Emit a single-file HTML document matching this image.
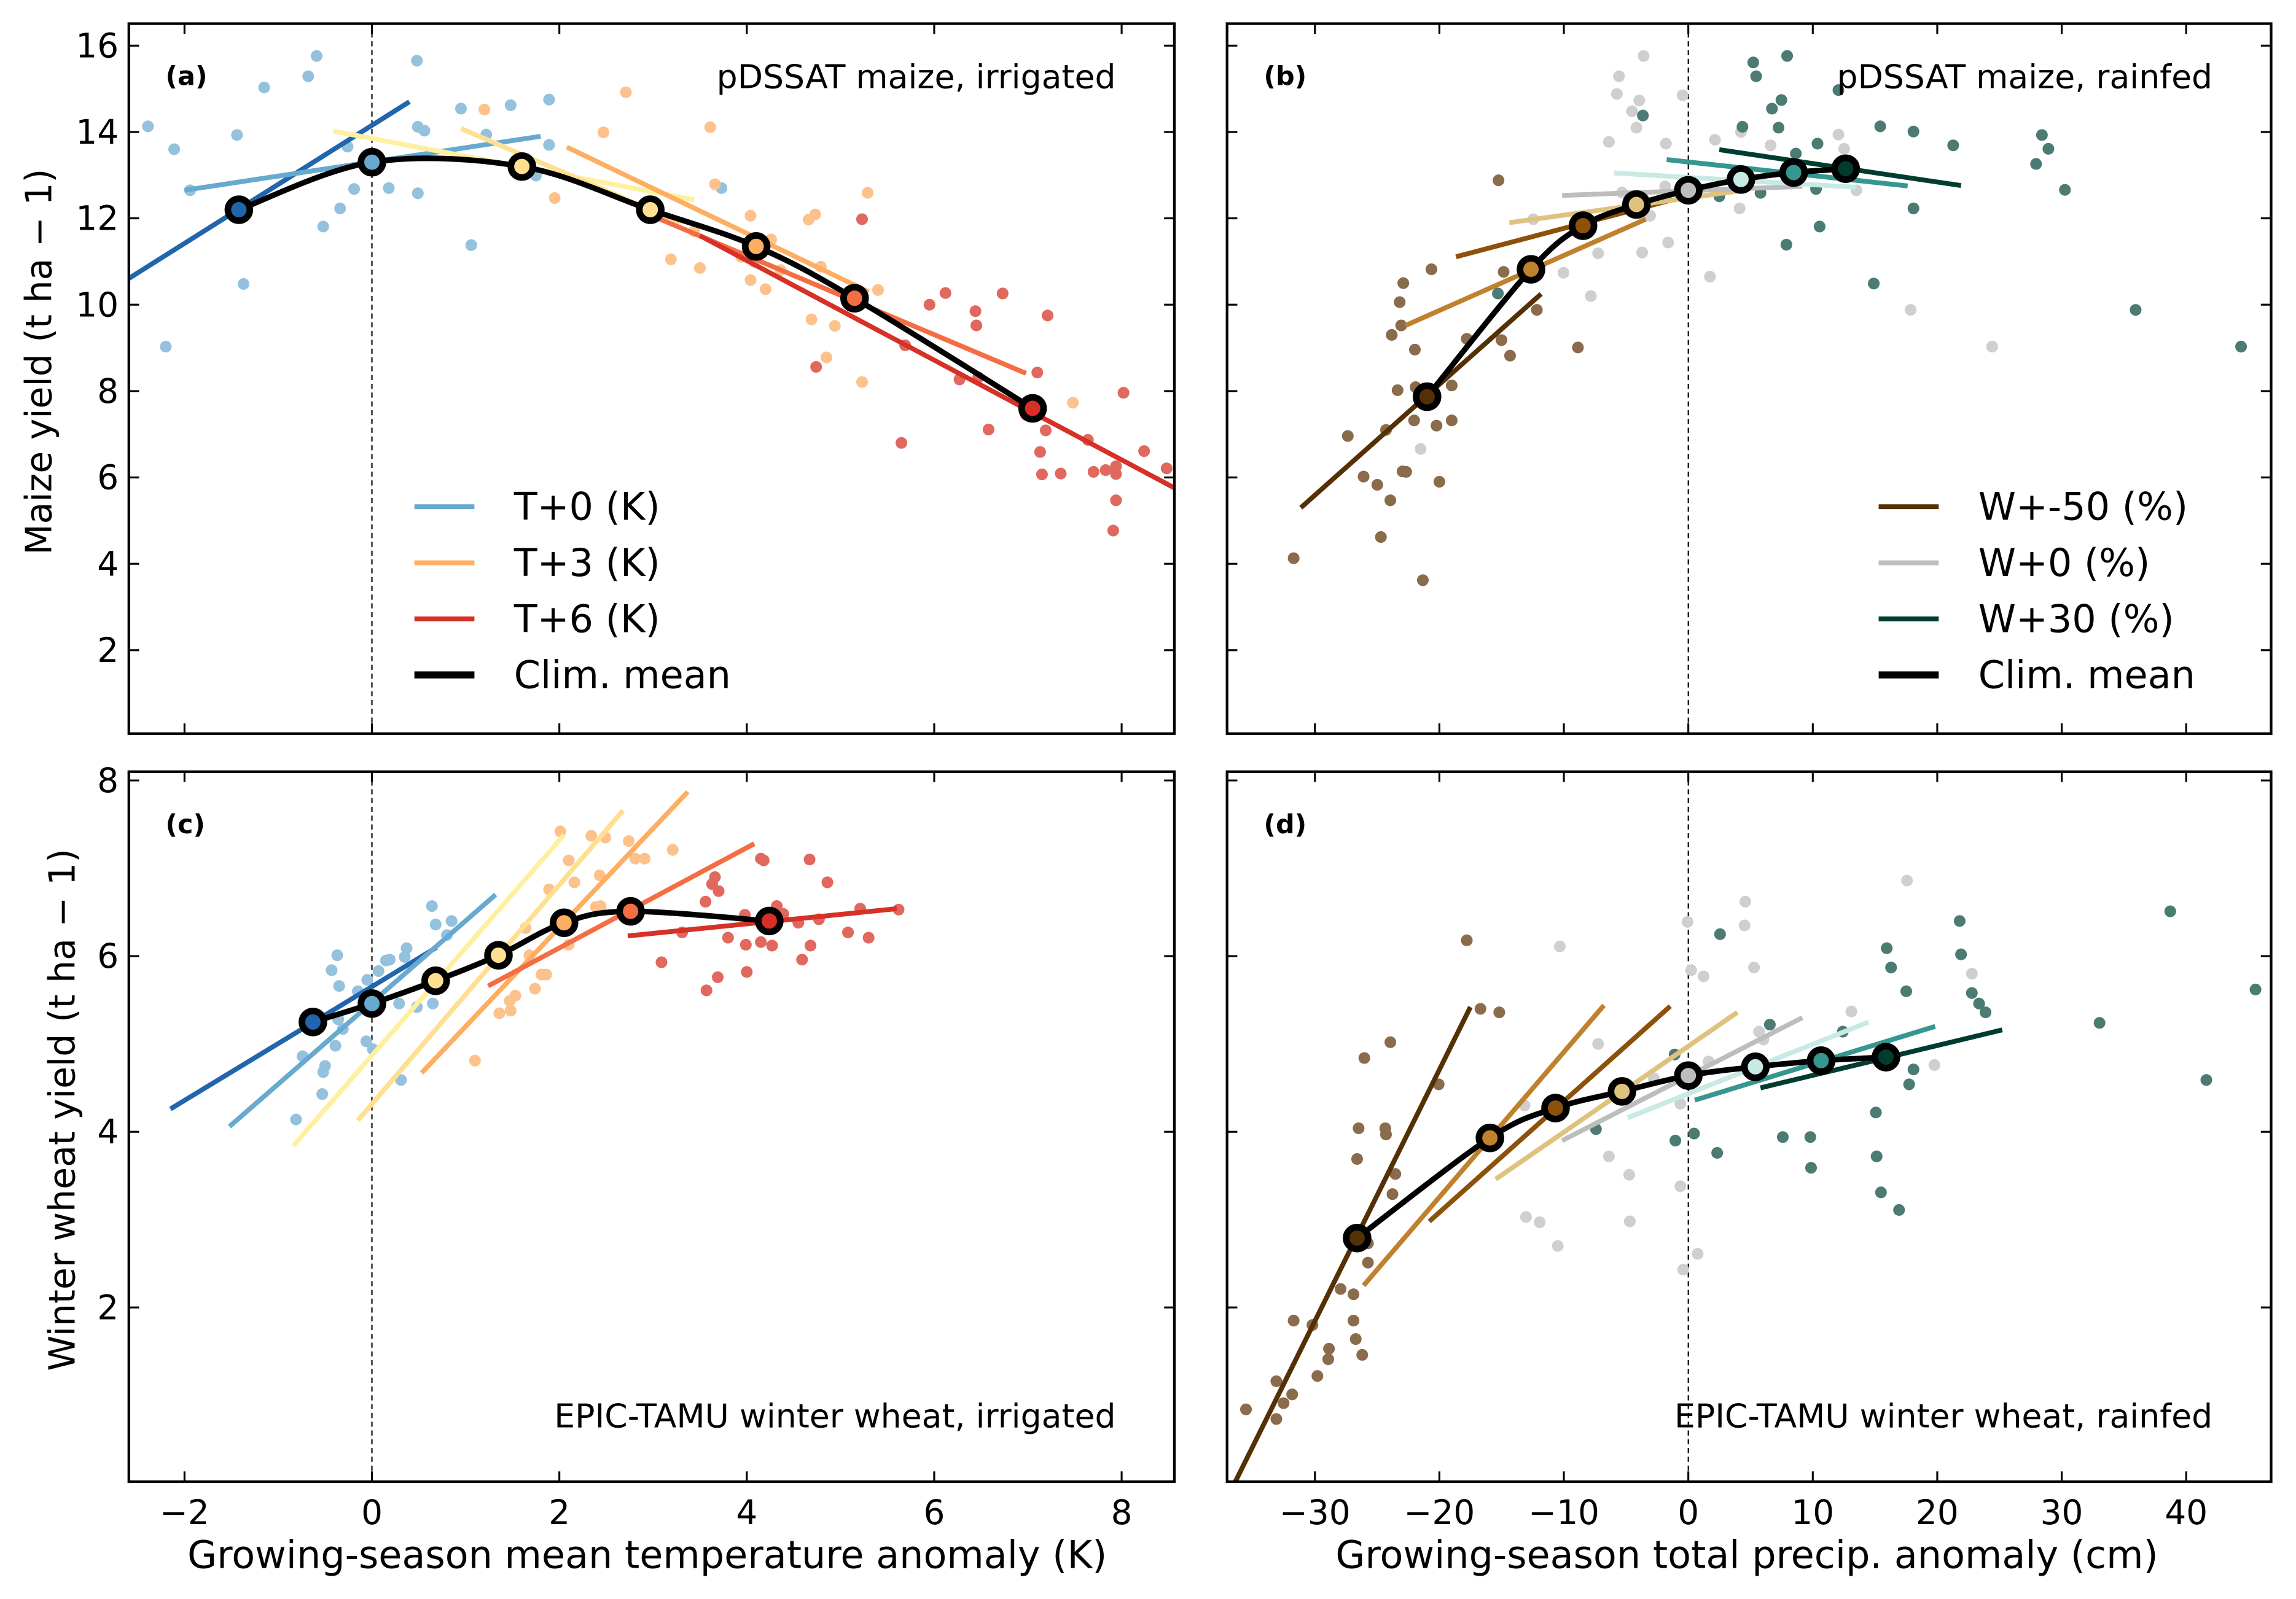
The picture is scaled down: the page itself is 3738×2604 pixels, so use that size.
<!DOCTYPE html>
<html><head><meta charset="utf-8"><title>Yield response chart</title>
<style>
html,body{margin:0;padding:0;background:#fff;}
svg{display:block;}
text{font-family:"DejaVu Sans","Liberation Sans",sans-serif;fill:#000;}
</style></head>
<body>
<svg id="chart" width="3738" height="2604" viewBox="0 0 1568 1092" xmlns="http://www.w3.org/2000/svg">
<rect x="0" y="0" width="1568" height="1092" fill="#fff"/>
</svg>
<script>
// ===== Panel (a) data: pDSSAT maize irrigated =====
const aMeanX = [-1.42, 0, 1.6, 2.97, 4.1, 5.15, 7.05];
const aMeanY = [12.2, 13.3, 13.2, 12.2, 11.35, 10.15, 7.6];
const aMeanColors = ["#2166ac","#67a9cf","#fee090","#fee090","#fdae61","#f46d43","#d73027"];
const aLines = [[-2.6,10.6,0.4,14.7],[-2.0,12.65,1.8,13.9],[-0.41,14.02,3.44,12.43],[0.95,14.08,3.3,11.9],[2.08,13.65,5.3,10.3],[3.0,12.05,6.98,8.41],[3.5,11.6,8.7,5.6]];
const aLineColors = ["#2166ac","#67a9cf","#fff0a0","#fee090","#fdae61","#f46d43","#d73027"];
const aBlue = [[-2.39,14.13],[-2.11,13.6],[-1.44,13.93],[-1.15,15.03],[-0.68,15.29],[-0.59,15.76],[0.48,15.65],[0.49,14.12],[0.56,14.03],[0.95,14.54],[1.48,14.62],[1.89,14.75],[1.22,13.94],[1.89,13.7],[1.75,12.99],[-1.94,12.65],[-0.19,12.68],[-0.34,12.23],[-0.52,11.81],[0.18,12.7],[0.49,12.58],[1.06,11.38],[-1.37,10.48],[-2.2,9.03],[-0.26,13.66],[3.73,12.7]];
const aOrange = [[1.2,14.52],[2.71,14.92],[2.47,13.99],[3.61,14.11],[1.95,12.47],[3.66,12.79],[4.04,12.06],[4.73,12.09],[4.66,11.97],[5.29,12.59],[4.26,11.51],[3.19,11.05],[3.5,10.85],[3.94,11.11],[4.08,10.99],[4.36,10.8],[4.79,10.88],[4.04,10.57],[4.2,10.36],[5.4,10.34],[4.69,9.66],[4.94,9.51],[4.85,8.78],[5.23,8.21],[7.48,7.73],[3.44,11.7]];
const aRed = [[5.23,11.98],[5.95,10.0],[6.12,10.27],[6.44,9.85],[6.45,9.52],[6.73,10.26],[7.21,9.75],[5.69,9.06],[4.74,8.56],[6.27,8.27],[6.47,8.32],[7.1,8.43],[6.58,7.11],[5.65,6.8],[7.19,7.09],[6.98,7.45],[7.13,6.59],[7.15,6.07],[7.35,6.09],[7.64,6.87],[7.7,6.13],[7.83,6.17],[7.94,6.26],[7.94,6.08],[7.94,5.47],[7.91,4.77],[8.02,7.96],[8.24,6.61],[8.48,6.21]];

// ===== Panel (b) data: pDSSAT maize rainfed =====
const bMeanX = [-20.99, -12.64, -8.46, -4.17, 0, 4.23, 8.46, 12.64];
const bMeanY = [7.87, 10.82, 11.83, 12.32, 12.65, 12.9, 13.06, 13.15];
const wColors = ["#543005","#bf812d","#8c510a","#dfc27d","#bdbdbd","#c7eae5","#35978f","#003c30"];
const bLines = [[-31.13,5.3,-11.83,10.25],[-22.72,9.52,-3.42,11.98],[-18.67,11.11,-1.28,12.43],[-14.38,11.9,3.94,12.63],[-10.14,12.53,9.16,12.74],[-5.97,13.05,13.51,12.72],[-1.74,13.36,17.62,12.75],[2.49,13.59,21.91,12.76]];
const bBrown = [[-15.25,12.88],[-20.64,10.82],[-22.9,10.5],[-23.19,10.06],[-23.07,9.52],[-23.83,9.3],[-21.97,8.96],[-14.84,10.76],[-17.8,9.21],[-15.01,9.18],[-14.32,8.82],[-12.17,9.88],[-8.87,9.01],[-23.36,8.02],[-21.91,8.09],[-19.01,8.13],[-22.03,7.32],[-20.23,7.2],[-19.01,7.32],[-24.29,7.1],[-27.36,6.96],[-26.09,6.02],[-24.99,5.83],[-22.96,6.14],[-22.67,6.13],[-20.0,5.9],[-23.94,5.47],[-24.7,4.62],[-31.71,4.13],[-21.33,3.62]];
const bGrey = [[-3.59,15.76],[-5.57,15.29],[-5.74,14.88],[-3.94,14.73],[-4.52,14.48],[-0.46,14.85],[-4.17,14.1],[-6.38,13.77],[-1.8,13.73],[2.14,13.82],[4.23,14.0],[6.61,13.69],[12.06,13.94],[12.52,13.61],[13.51,12.65],[-5.33,12.6],[-3.07,12.06],[-12.46,11.98],[4.12,12.23],[-1.62,11.44],[-7.25,11.19],[-3.71,11.21],[-10.03,10.74],[1.74,10.65],[-7.83,10.2],[17.86,9.88],[24.41,9.03],[-21.51,6.66],[-1.86,12.74]];
const bTeal = [[5.22,15.61],[5.45,15.29],[7.94,15.76],[12.06,14.97],[7.48,14.74],[6.72,14.54],[4.35,14.12],[7.25,14.1],[-3.65,14.38],[15.42,14.13],[18.09,14.01],[10.38,13.73],[8.64,13.5],[21.28,13.69],[28.41,13.93],[28.93,13.61],[27.94,13.26],[30.26,12.66],[18.09,12.23],[10.26,12.68],[5.8,12.59],[2.49,12.51],[10.55,11.81],[7.88,11.39],[14.9,10.49],[35.94,9.88],[44.41,9.03],[-15.3,10.26]];

// ===== Panel (c) data: EPIC-TAMU winter wheat irrigated =====
const cMeanX = [-0.63, 0, 0.68, 1.35, 2.05, 2.76, 4.24];
const cMeanY = [5.25, 5.46, 5.72, 6.01, 6.38, 6.51, 6.4];
const cMeanColors = ["#2166ac","#67a9cf","#fee090","#fee090","#fdae61","#f46d43","#d73027"];
const cLines = [[-2.15,4.26,0.69,6.1],[-1.52,4.06,1.32,6.7],[-0.84,3.84,2.05,7.38],[-0.15,4.13,2.68,7.66],[0.53,4.67,3.37,7.87],[1.24,5.66,4.08,7.28],[2.73,6.23,5.6,6.54]];
const cLineColors = ["#2166ac","#67a9cf","#fff0a0","#fee090","#fdae61","#f46d43","#d73027"];
const cBlue = [[-0.81,4.14],[-0.53,4.43],[-0.52,4.68],[-0.5,4.75],[-0.74,4.86],[-0.39,4.98],[-0.31,5.17],[-0.36,5.28],[-0.06,5.03],[0.01,4.94],[0.31,4.59],[-0.43,5.84],[-0.37,6.01],[-0.35,5.66],[-0.15,5.6],[-0.05,5.73],[0.07,5.83],[0.15,5.95],[0.19,5.96],[0.37,6.09],[0.35,5.99],[0.29,5.46],[0.48,5.42],[0.65,5.46],[0.64,6.57],[0.68,6.36],[0.85,6.4],[0.8,6.24]];
const cOrange = [[2.01,7.42],[2.34,7.37],[2.49,7.35],[2.74,7.31],[3.21,7.21],[2.1,7.09],[2.81,7.11],[2.91,7.11],[2.16,6.84],[2.43,6.92],[1.89,6.76],[2.39,6.56],[2.44,6.57],[1.64,6.32],[2.1,6.13],[1.68,6.01],[1.81,5.79],[1.86,5.79],[1.74,5.63],[1.53,5.55],[1.47,5.49],[1.36,5.35],[1.48,5.38],[1.1,4.81]];
const cRed = [[4.15,7.11],[4.18,7.09],[4.67,7.1],[4.86,6.84],[3.66,6.9],[3.63,6.82],[3.7,6.74],[3.56,6.62],[3.98,6.47],[4.32,6.57],[4.39,6.48],[4.55,6.38],[4.77,6.42],[5.21,6.54],[5.08,6.27],[5.3,6.21],[4.68,6.12],[4.27,6.12],[4.15,6.16],[3.99,6.13],[3.8,6.21],[3.31,6.27],[3.09,5.93],[3.69,5.76],[3.57,5.61],[4.0,5.82],[4.59,5.96],[5.62,6.53]];

// ===== Panel (d) data: EPIC-TAMU winter wheat rainfed =====
const dMeanX = [-26.61, -15.94, -10.67, -5.33, 0, 5.39, 10.67, 15.88];
const dMeanY = [2.79, 3.93, 4.27, 4.46, 4.64, 4.74, 4.81, 4.85];
const dLines = [[-37.5,-0.3,-17.51,5.42],[-26.09,2.25,-6.78,5.44],[-20.81,2.98,-1.45,5.43],[-15.48,3.46,3.94,5.36],[-10.14,3.9,9.16,5.3],[-4.87,4.16,14.49,5.25],[0.52,4.36,19.83,5.2],[5.8,4.5,25.22,5.16]];
const dBrown = [[-17.8,6.18],[-16.7,5.4],[-15.19,5.36],[-23.94,5.02],[-26.03,4.84],[-20.06,4.54],[-26.49,4.04],[-24.35,4.04],[-24.29,3.97],[-26.61,3.69],[-23.54,3.52],[-23.77,3.29],[-25.74,2.73],[-25.74,2.51],[-27.94,2.21],[-26.9,2.15],[-26.9,1.85],[-30.2,1.8],[-31.71,1.85],[-26.72,1.64],[-28.87,1.53],[-28.93,1.41],[-26.2,1.46],[-29.8,1.22],[-33.1,1.16],[-31.83,1.01],[-32.52,0.91],[-33.1,0.73],[-35.54,0.84]];
const dGrey = [[17.57,6.86],[4.58,6.62],[-0.06,6.39],[4.52,6.35],[-10.32,6.11],[0.23,5.84],[1.22,5.77],[5.28,5.87],[22.78,5.8],[13.1,5.37],[5.68,5.14],[6.03,5.05],[-7.25,5.0],[1.62,4.8],[19.77,4.76],[-13.16,4.3],[-0.64,4.32],[-6.38,3.72],[-4.75,3.51],[-0.64,3.38],[-13.04,3.03],[-11.94,2.97],[-4.7,2.98],[-10.49,2.7],[0.75,2.61],[-0.41,2.43],[-2.78,4.61]];
const dTeal = [[21.8,6.4],[21.91,6.02],[15.94,6.09],[16.29,5.87],[17.51,5.6],[22.78,5.58],[23.36,5.46],[23.88,5.36],[38.72,6.51],[45.57,5.62],[33.04,5.24],[41.62,4.59],[2.55,6.25],[6.55,5.22],[12.41,5.14],[-1.1,4.88],[18.09,4.71],[17.74,4.54],[15.07,4.22],[-7.42,4.03],[0.46,3.98],[-1.04,3.9],[7.59,3.94],[9.8,3.94],[2.32,3.76],[9.86,3.59],[15.13,3.72],[15.48,3.31],[16.93,3.11]];

// ticks
const tempTicks = [-2, 0, 2, 4, 6, 8];
const precTicks = [-30, -20, -10, 0, 10, 20, 30, 40];
const maizeTicks = [2, 4, 6, 8, 10, 12, 14, 16];
const wheatTicks = [2, 4, 6, 8];
const legendTemp = ["T+0 (K)", "T+3 (K)", "T+6 (K)", "Clim. mean"];
const legendTempColors = ["#67a9cf", "#fdae61", "#d73027", "#000"];
const legendPrec = ["W+-50 (%)", "W+0 (%)", "W+30 (%)", "Clim. mean"];
const legendPrecColors = ["#543005", "#bdbdbd", "#003c30", "#000"];

const NS = "http://www.w3.org/2000/svg";
const svg = document.getElementById("chart");
function mk(tag, attrs, parent) {
  const e = document.createElementNS(NS, tag);
  for (const k in attrs) e.setAttribute(k, attrs[k]);
  (parent || svg).appendChild(e);
  return e;
}

function drawPanel(p) {
  const g = mk("g", {});
  
  
  const sx = v => p.x0 + v * p.kx;
  const sy = v => p.y0 - v * p.ky;
  const cid = "clip-" + p.id;
  const cp = mk("clipPath", { id: cid }, g);
  mk("rect", { x: p.left, y: p.top, width: p.right - p.left, height: p.bottom - p.top }, cp);
  const plot = mk("g", { "clip-path": "url(#" + cid + ")" }, g);
  
  
  const zl = mk("line", { x1: sx(0), x2: sx(0), y1: p.top, y2: p.bottom, stroke: "#000", "stroke-width": 0.9, "stroke-dasharray": "3.5,2.5" }, plot);
  
  
  p.scatter.forEach(s => {
    s.pts.forEach(pt => {
      const c = mk("circle", { cx: sx(pt[0]), cy: sy(pt[1]), r: 4, fill: s.color }, plot);
      
      
    });
  });
  p.lines.forEach((l, i) => {
    const ln = mk("line", { x1: sx(l[0]), y1: sy(l[1]), x2: sx(l[2]), y2: sy(l[3]), stroke: p.lineColors[i], "stroke-width": 3.3 }, plot);
    
    
  });
  const P = p.mx.map((x, i) => [sx(x), sy(p.my[i])]);
  let d = "M" + P[0][0] + "," + P[0][1];
  for (let i = 0; i < P.length - 1; i++) {
    const p0 = P[Math.max(i - 1, 0)], p1 = P[i], p2 = P[i + 1], p3 = P[Math.min(i + 2, P.length - 1)];
    const c1 = [p1[0] + (p2[0] - p0[0]) / 6, p1[1] + (p2[1] - p0[1]) / 6];
    const c2 = [p2[0] - (p3[0] - p1[0]) / 6, p2[1] - (p3[1] - p1[1]) / 6];
    d += " C" + c1[0] + "," + c1[1] + " " + c2[0] + "," + c2[1] + " " + p2[0] + "," + p2[1];
  }
  const cur = mk("path", { d: d, fill: "none", stroke: "#000", "stroke-width": 3.8 }, plot);
  
  
  P.forEach((pt, i) => {
    const m = mk("circle", { cx: pt[0], cy: pt[1], r: 7.5, fill: p.meanColors[i], stroke: "#000", "stroke-width": 4.5 }, plot);
    
    
  });
  const fr = mk("rect", { x: p.left, y: p.top, width: p.right - p.left, height: p.bottom - p.top, fill: "none", stroke: "#000", "stroke-width": 1.8 }, g);
  
  
  p.xt.forEach(t => {
    const x = sx(t);
    mk("line", { x1: x, x2: x, y1: p.bottom, y2: p.bottom - 7, stroke: "#000", "stroke-width": 1.3 }, g);
    mk("line", { x1: x, x2: x, y1: p.top, y2: p.top + 7, stroke: "#000", "stroke-width": 1.3 }, g);
    if (p.xlab) {
      const tx = mk("text", { x: x, y: p.bottom + 29, "font-size": 23, "text-anchor": "middle" }, g);
      tx.textContent = t < 0 ? "\u2212" + Math.abs(t) : String(t);
      
      
    }
  });
  p.yt.forEach(t => {
    const y = sy(t);
    mk("line", { x1: p.left, x2: p.left + 7, y1: y, y2: y, stroke: "#000", "stroke-width": 1.3 }, g);
    mk("line", { x1: p.right, x2: p.right - 7, y1: y, y2: y, stroke: "#000", "stroke-width": 1.3 }, g);
    if (p.ylab) {
      const ty = mk("text", { x: p.left - 7, y: y + 8, "font-size": 23, "text-anchor": "end" }, g);
      ty.textContent = String(t);
      
      
    }
  });
  const pl = mk("text", { x: p.left + 25, y: p.top + 42, "font-size": 18, "font-weight": "bold" }, g);
  pl.textContent = "(" + p.id + ")";
  
  
  const an = mk("text", { x: p.right - 40, y: p.annY, "font-size": 22.5, "text-anchor": "end" }, g);
  an.textContent = p.title;
  
  
  if (p.legend) {
    p.legend.forEach((lab, i) => {
      const y = p.top + 330 + i * 38.3;
      const ll = mk("line", { x1: p.legX, x2: p.legX + 41, y1: y, y2: y, stroke: p.legendColors[i], "stroke-width": i === 3 ? 4.8 : 3.3 }, g);
      
      
      const lt = mk("text", { x: p.legX + 68, y: y + 9, "font-size": 26 }, g);
      lt.textContent = lab;
      
      
    });
  }
}

drawPanel({ id: "a", left: 88, right: 802, top: 16, bottom: 501, x0: 254, kx: 64, y0: 503, ky: 29.5,
  xt: tempTicks, yt: maizeTicks, xlab: false, ylab: true, title: "pDSSAT maize, irrigated", annY: 60,
  mx: aMeanX, my: aMeanY, meanColors: aMeanColors, lines: aLines, lineColors: aLineColors,
  scatter: [{ name: "t0", color: "#94c1dd", pts: aBlue }, { name: "t3", color: "#fdc28c", pts: aOrange }, { name: "t6", color: "#e1685e", pts: aRed }],
  legend: legendTemp, legendColors: legendTempColors, legX: 283 });
drawPanel({ id: "b", left: 838, right: 1551, top: 16, bottom: 501, x0: 1153, kx: 8.5, y0: 503, ky: 29.5,
  xt: precTicks, yt: maizeTicks, xlab: false, ylab: false, title: "pDSSAT maize, rainfed", annY: 60,
  mx: bMeanX, my: bMeanY, meanColors: wColors, lines: bLines, lineColors: wColors,
  scatter: [{ name: "w-50", color: "#8a6b4c", pts: bBrown }, { name: "w0", color: "#cfcfcf", pts: bGrey }, { name: "w30", color: "#4b7b72", pts: bTeal }],
  legend: legendPrec, legendColors: legendPrecColors, legX: 1283 });
drawPanel({ id: "c", left: 88, right: 802, top: 527, bottom: 1012, x0: 254, kx: 64, y0: 1013, ky: 60,
  xt: tempTicks, yt: wheatTicks, xlab: true, ylab: true, title: "EPIC-TAMU winter wheat, irrigated", annY: 975,
  mx: cMeanX, my: cMeanY, meanColors: cMeanColors, lines: cLines, lineColors: cLineColors,
  scatter: [{ name: "t0", color: "#94c1dd", pts: cBlue }, { name: "t3", color: "#fdc28c", pts: cOrange }, { name: "t6", color: "#e1685e", pts: cRed }] });
drawPanel({ id: "d", left: 838, right: 1551, top: 527, bottom: 1012, x0: 1153, kx: 8.5, y0: 1013, ky: 60,
  xt: precTicks, yt: wheatTicks, xlab: true, ylab: false, title: "EPIC-TAMU winter wheat, rainfed", annY: 975,
  mx: dMeanX, my: dMeanY, meanColors: wColors, lines: dLines, lineColors: wColors,
  scatter: [{ name: "w-50", color: "#8a6b4c", pts: dBrown }, { name: "w0", color: "#cfcfcf", pts: dGrey }, { name: "w30", color: "#4b7b72", pts: dTeal }] });

const yt1 = mk("text", { x: 0, y: 0, "font-size": 24.5, "text-anchor": "middle", transform: "translate(35,247) rotate(-90)" });
yt1.textContent = "Maize yield (t ha \u2212 1)";


const yt2 = mk("text", { x: 0, y: 0, "font-size": 24.5, "text-anchor": "middle", transform: "translate(51,758) rotate(-90)" });
yt2.textContent = "Winter wheat yield (t ha \u2212 1)";


const xt1 = mk("text", { x: 442, y: 1071, "font-size": 26, "text-anchor": "middle" });
xt1.textContent = "Growing-season mean temperature anomaly (K)";


const xt2 = mk("text", { x: 1193, y: 1071, "font-size": 26, "text-anchor": "middle" });
xt2.textContent = "Growing-season total precip. anomaly (cm)";


</script>
</body></html>
